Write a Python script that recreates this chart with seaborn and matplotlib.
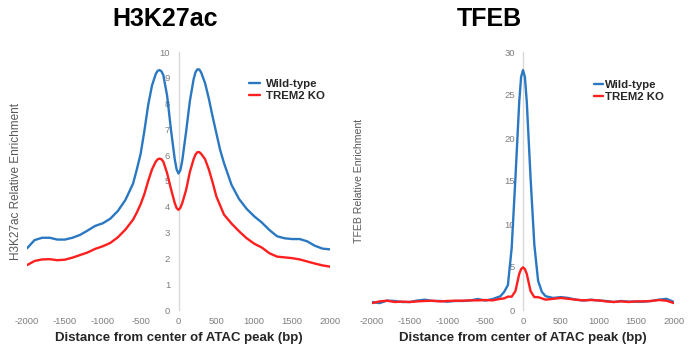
import numpy as np
import pandas as pd
import matplotlib
matplotlib.use("Agg")
import matplotlib.pyplot as plt
import seaborn as sns

# ---------------- data ----------------
h3_pos = [-2000, -1900, -1800, -1700, -1600, -1500, -1400, -1300, -1200, -1100,
          -1000, -900, -800, -700, -600, -550, -500, -450, -400, -350, -300,
          -275, -250, -225, -200, -150, -100, -50, -25, 0, 25, 50, 100, 150,
          200, 225, 250, 275, 300, 350, 400, 450, 500, 550, 600, 700, 800, 900,
          1000, 1100, 1200, 1300, 1400, 1500, 1600, 1700, 1800, 1900, 2000]
h3_wt = [2.39, 2.71, 2.80, 2.80, 2.73, 2.73, 2.80, 2.91, 3.08, 3.26,
         3.36, 3.54, 3.84, 4.27, 4.90, 5.45, 6.05, 6.95, 7.95, 8.70, 9.15,
         9.27, 9.30, 9.25, 9.10, 8.30, 7.00, 5.85, 5.45, 5.29, 5.42, 5.80, 6.90,
         8.10, 8.95, 9.22, 9.33, 9.32, 9.20, 8.80, 8.20, 7.50, 6.85, 6.20,
         5.70, 4.85, 4.30, 3.92, 3.63, 3.39, 3.10, 2.86, 2.78, 2.75, 2.75,
         2.66, 2.49, 2.38, 2.35]
h3_ko = [1.74, 1.90, 1.96, 1.97, 1.93, 1.95, 2.03, 2.13, 2.23, 2.37,
         2.47, 2.60, 2.82, 3.12, 3.50, 3.78, 4.10, 4.50, 5.00, 5.45, 5.75,
         5.84, 5.87, 5.84, 5.75, 5.30, 4.70, 4.15, 3.95, 3.88, 3.96, 4.15,
         4.65, 5.35, 5.85, 6.03, 6.12, 6.12, 6.05, 5.85, 5.45, 4.95, 4.40,
         4.05, 3.70, 3.35, 3.05, 2.78, 2.57, 2.42, 2.20, 2.07, 2.04, 2.01,
         1.96, 1.88, 1.80, 1.73, 1.68]

tfeb_pos = [-2000, -1900, -1800, -1700, -1600, -1500, -1400, -1300, -1200, -1100,
            -1000, -900, -800, -700, -600, -500, -400, -300, -250, -200, -150,
            -100, -50, -25, 0, 25, 50, 100, 150, 200, 250, 300, 400, 500, 600,
            700, 800, 900, 1000, 1100, 1200, 1300, 1400, 1500, 1600, 1700,
            1800, 1900, 2000]
tfeb_wt = [0.93, 0.80, 1.10, 1.05, 0.93, 0.93, 1.10, 1.20, 1.05, 1.05,
           0.97, 1.05, 1.05, 1.10, 1.28, 1.10, 1.28, 1.60, 2.10, 2.90, 7.20,
           15.4, 24.2, 27.1, 27.9, 27.1, 24.2, 15.4, 7.6, 3.4, 2.1, 1.6, 1.4,
           1.5, 1.4, 1.2, 1.1, 1.2, 1.1, 1.05, 0.93, 1.05, 0.97, 0.97, 0.97,
           1.05, 1.2, 1.3, 0.93]
tfeb_ko = [0.80, 1.00, 1.08, 0.93, 0.97, 0.93, 1.00, 1.05, 1.08, 1.00,
           1.05, 1.08, 1.08, 1.12, 1.12, 1.16, 1.12, 1.30, 1.35, 1.55, 1.55,
           2.20, 4.20, 4.75, 4.96, 4.75, 4.20, 2.20, 1.50, 1.50, 1.35, 1.20,
           1.30, 1.40, 1.30, 1.20, 1.12, 1.16, 1.12, 1.00, 0.93, 1.00, 0.93,
           1.00, 1.00, 1.05, 1.16, 1.08, 0.80]

series_names = ["Wild-type", "TREM2 KO"]
panel_titles = ["H3K27ac", "TFEB"]
y_labels = ["H3K27ac Relative Enrichment", "TFEB Relative Enrichment"]
x_label = "Distance from center of ATAC peak (bp)"
x_ticks = [-2000, -1500, -1000, -500, 0, 500, 1000, 1500, 2000]
h3_yticks = list(range(0, 11))
tfeb_yticks = [0, 5, 10, 15, 20, 25, 30]

# ---------------- style ----------------
sns.set_style("white")
plt.rcParams["font.family"] = ["Liberation Sans", "DejaVu Sans"]

colors = {"Wild-type": "#2B78C2", "TREM2 KO": "#FF1F1F"}
axis_gray = "#D9D9D9"
tick_gray = "#7F7F7F"

fig = plt.figure(figsize=(6.9, 3.48), dpi=100)
W, H = 690, 348

def make_df(pos, wt, ko):
    return pd.concat([
        pd.DataFrame({"pos": pos, "val": wt, "series": series_names[0]}),
        pd.DataFrame({"pos": pos, "val": ko, "series": series_names[1]}),
    ])

panels = [
    dict(df=make_df(h3_pos, h3_wt, h3_ko), box=(27, 330), ylim=(0, 10),
         yticks=h3_yticks, ylab_x=-0.017, ylab_fs=8.5, title_x=165,
         leg=(249, 79), handlelength=1.0, handletextpad=0.45),
    dict(df=make_df(tfeb_pos, tfeb_wt, tfeb_ko), box=(372, 674), ylim=(0, 30),
         yticks=tfeb_yticks, ylab_x=-0.027, ylab_fs=7.6, title_x=489,
         leg=(594, 80), handlelength=0.8, handletextpad=0.2),
]

for i, p in enumerate(panels):
    x0, x1 = p["box"]
    top, bottom = 52, 310
    ax = fig.add_axes([x0 / W, (H - bottom) / H, (x1 - x0) / W, (bottom - top) / H])
    sns.lineplot(data=p["df"], x="pos", y="val", hue="series",
                 hue_order=series_names, palette=colors, linewidth=1.7,
                 ax=ax, legend=True, estimator=None, sort=True)
    for ln in ax.lines:
        ln.set_solid_joinstyle("round")
        ln.set_solid_capstyle("round")
    ax.set_xlim(-2000, 2000)
    ax.set_ylim(*p["ylim"])
    ax.set_xticks(x_ticks)
    ax.set_xticklabels([str(t) for t in x_ticks])
    ax.set_yticks(p["yticks"])
    for s in ["top", "right", "bottom"]:
        ax.spines[s].set_visible(False)
    ax.spines["left"].set_position(("data", 0))
    ax.spines["left"].set_color(axis_gray)
    ax.spines["left"].set_linewidth(1.0)
    ax.spines["left"].set_zorder(0)
    ax.tick_params(axis="y", length=3, width=0.8, color=axis_gray,
                   labelsize=6.8, labelcolor=tick_gray, pad=3)
    ax.tick_params(axis="x", length=0, labelsize=6.8, labelcolor=tick_gray, pad=5)
    ax.set_xlabel(x_label, fontsize=9.5, fontweight="bold", color="#262626", labelpad=4)
    ax.set_ylabel(y_labels[i], fontsize=p["ylab_fs"], color="#595959")
    ax.yaxis.set_label_coords(p["ylab_x"], 0.5)
    ax.grid(False)
    lx, ly = p["leg"]
    ax.legend(title=None, frameon=False,
              prop={"weight": "bold", "size": 8.2},
              loc="upper left", bbox_to_anchor=(lx / W, 1 - ly / H),
              bbox_transform=fig.transFigure, borderaxespad=0, borderpad=0,
              handlelength=p["handlelength"], handletextpad=p["handletextpad"],
              labelspacing=0.15)
    fig.text(p["title_x"] / W, 1 - 19 / H, panel_titles[i], fontsize=18,
             fontweight="bold", ha="center", va="center", color="black")

fig.savefig("out.png", dpi=100)
